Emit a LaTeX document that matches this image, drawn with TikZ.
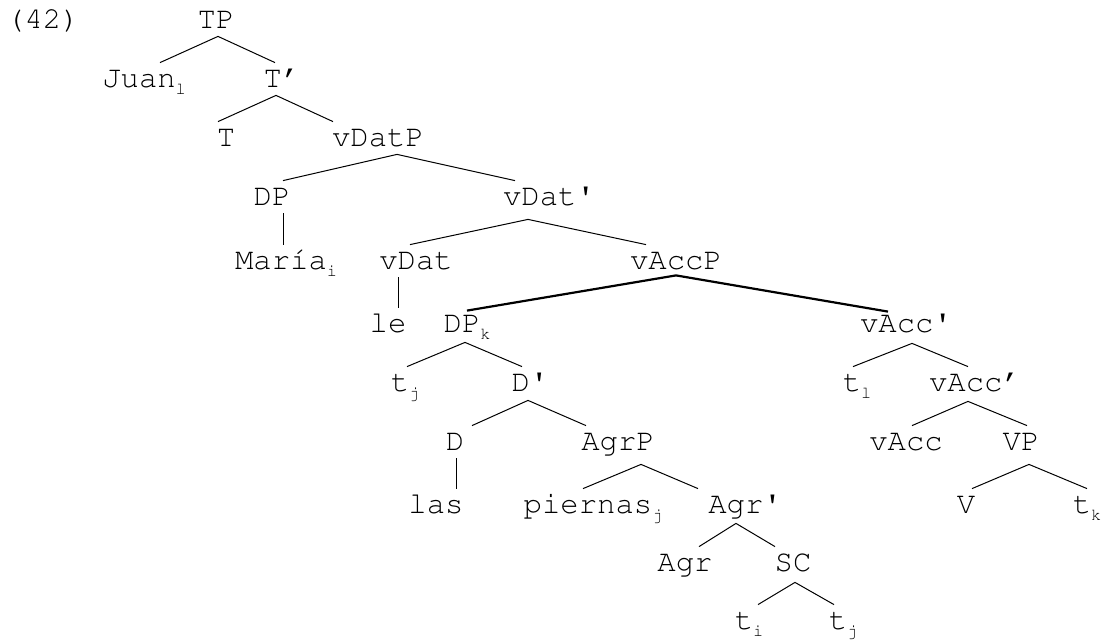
\documentclass[tikz,border=0pt]{standalone}
\usepackage[T1]{fontenc}
\usetikzlibrary{positioning}

\newcommand{\idx}[1]{\rlap{\raisebox{-3.5pt}{\fontsize{8.5}{8.5}\selectfont #1}}}

\tikzset{
	labelnode/.style={
			inner sep=0pt,
			text height=12.38pt,
			text depth=3.62pt,
			font=\fontfamily{pcr}\fontsize{15.3}{18}\selectfont
		},
	branch/.style={
			line width=0.5pt
		},
	heavybranch/.style={
			line width=1.1pt
		}
}

\begin{document}
\begin{tikzpicture}[x=0.5pt,y=-0.5pt]
\useasboundingbox (0,0) rectangle (1107,642);

\node[labelnode] (nEx) at (43,20) {(42)};
\node[labelnode] (nTP) at (216,20) {TP};
\node[labelnode] (nJuan) at (139,79) {Juan\idx{l}};
\node[labelnode] (nTbar) at (282,79) {T\textquoteright};
\node[labelnode] (nT) at (226,138) {T};
\node[labelnode] (nvDatP) at (378,138) {vDatP};
\node[labelnode] (nDP) at (272,197) {DP};
\node[labelnode] (nvDatbar) at (549,197) {vDat\textquotesingle};
\node[labelnode] (nMaria) at (281,261) {Mar\'{\i}a\idx{i}};
\node[labelnode] (nvDat) at (416,261) {vDat};
\node[labelnode] (nvAccP) at (676,261) {vAccP};
\node[labelnode] (nle) at (388,324) {le};
\node[labelnode] (nDPk) at (462,324) {DP\idx{k}};
\node[labelnode] (nvAccbar) at (906,324) {vAcc\textquotesingle};
\node[labelnode] (ntj) at (400,383) {t\idx{j}};
\node[labelnode] (nDbar) at (530,383) {D\textquotesingle};
\node[labelnode] (ntl) at (852,383) {t\idx{l}};
\node[labelnode] (nvAccbarb) at (975,383) {vAcc\textquoteright};
\node[labelnode] (nD) at (455,442) {D};
\node[labelnode] (nAgrP) at (618,442) {AgrP};
\node[labelnode] (nvAcc) at (906,442) {vAcc};
\node[labelnode] (nVP) at (1021,442) {VP};
\node[labelnode] (nlas) at (436,505) {las};
\node[labelnode] (npiernas) at (588,505) {piernas\idx{j}};
\node[labelnode] (nAgrbar) at (745,505) {Agr\textquotesingle};
\node[labelnode] (nV) at (966,505) {V};
\node[labelnode] (ntk) at (1082,505) {t\idx{k}};
\node[labelnode] (nAgr) at (685,563) {Agr};
\node[labelnode] (nSC) at (793,563) {SC};
\node[labelnode] (nti) at (744,621) {t\idx{i}};
\node[labelnode] (ntjb) at (838,621) {t\idx{j}};

\draw[branch] ([shift={(2,0)}]nTP.south) -- ([shift={(21,0)}]nJuan.north);
\draw[branch] ([shift={(2,0)}]nTP.south) -- ([shift={(-7,0)}]nTbar.north);
\draw[branch] ([shift={(-6,0)}]nTbar.south) -- ([shift={(-8,0)}]nT.north);
\draw[branch] ([shift={(-6,0)}]nTbar.south) -- ([shift={(-45,0)}]nvDatP.north);
\draw[branch] ([shift={(19,0)}]nvDatP.south) -- ([shift={(11,0)}]nDP.north);
\draw[branch] ([shift={(19,0)}]nvDatP.south) -- ([shift={(-34,0)}]nvDatbar.north);
\draw[branch] ([shift={(11,0)}]nDP.south) -- ([shift={(2,0)}]nMaria.north);
\draw[branch] ([shift={(-21,6)}]nvDatbar.south) -- ([shift={(-6,0)}]nvDat.north);
\draw[branch] ([shift={(-21,6)}]nvDatbar.south) -- ([shift={(-30,0)}]nvAccP.north);
\draw[branch] ([shift={(-18,0)}]nvDat.south) -- ([shift={(10,0)}]nle.north);
\draw[heavybranch] ([shift={(0,-2)}]nvAccP.south) -- ([shift={(5,3)}]nDPk.north);
\draw[heavybranch] ([shift={(0,-2)}]nvAccP.south) -- ([shift={(-18,4)}]nvAccbar.north);
\draw[branch] ([shift={(3,2)}]nDPk.south) -- ([shift={(7,0)}]ntj.north);
\draw[branch] ([shift={(3,2)}]nDPk.south) -- ([shift={(-8,0)}]nDbar.north);
\draw[branch] ([shift={(6,3)}]nvAccbar.south) -- ([shift={(1,0)}]ntl.north);
\draw[branch] ([shift={(6,3)}]nvAccbar.south) -- ([shift={(-7,0)}]nvAccbarb.north);
\draw[branch] ([shift={(-2,1)}]nDbar.south) -- ([shift={(17,0)}]nD.north);
\draw[branch] ([shift={(-2,1)}]nDbar.south) -- ([shift={(-32,0)}]nAgrP.north);
\draw[branch] ([shift={(-7,2)}]nvAccbarb.south) -- ([shift={(6,0)}]nvAcc.north);
\draw[branch] ([shift={(-7,2)}]nvAccbarb.south) -- ([shift={(6,0)}]nVP.north);
\draw[branch] ([shift={(1,0)}]nD.south) -- ([shift={(20,0)}]nlas.north);
\draw[branch] ([shift={(23,6)}]nAgrP.south) -- ([shift={(-5,0)}]npiernas.north);
\draw[branch] ([shift={(23,6)}]nAgrP.south) -- ([shift={(-47,0)}]nAgrbar.north);
\draw[branch] ([shift={(8,6)}]nVP.south) -- ([shift={(6,0)}]nV.north);
\draw[branch] ([shift={(8,6)}]nVP.south) -- ([shift={(5,0)}]ntk.north);
\draw[branch] ([shift={(-9,2)}]nAgrbar.south) -- ([shift={(14,0)}]nAgr.north);
\draw[branch] ([shift={(-9,2)}]nAgrbar.south) -- ([shift={(-18,0)}]nSC.north);
\draw[branch] ([shift={(2,3)}]nSC.south) -- ([shift={(14,0)}]nti.north);
\draw[branch] ([shift={(2,3)}]nSC.south) -- ([shift={(-4,0)}]ntjb.north);

\end{tikzpicture}
\end{document}
